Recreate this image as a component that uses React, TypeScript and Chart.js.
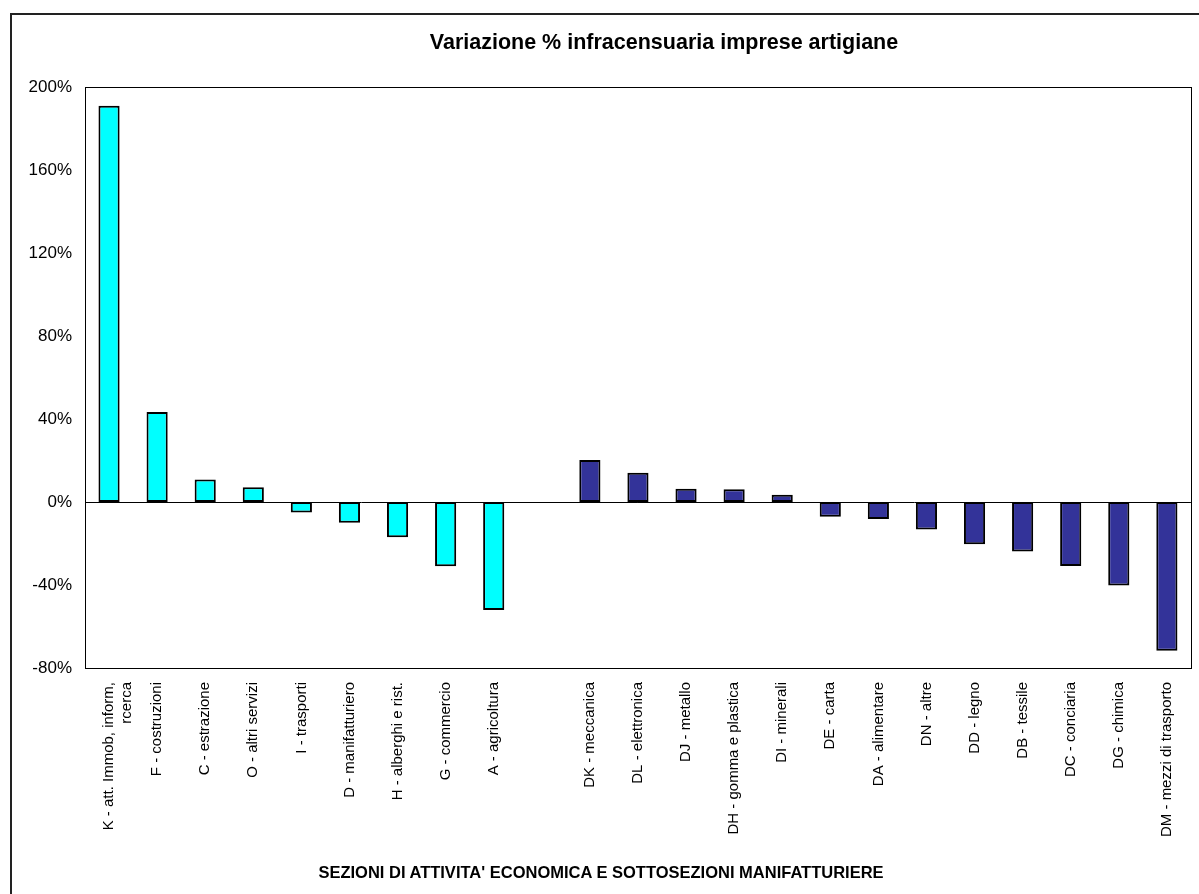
import React, { useEffect, useRef } from "react";
import { Chart, registerables } from "chart.js";

Chart.register(...registerables);

const categories: (string | string[])[] = [
  ["K - att. Immob, inform,", "rcerca"],
  "F - costruzioni",
  "C - estrazione",
  "O - altri servizi",
  "I - trasporti",
  "D - manifatturiero",
  "H - alberghi e rist.",
  "G - commercio",
  "A - agricoltura",
  "",
  "DK - meccanica",
  "DL - elettronica",
  "DJ - metallo",
  "DH - gomma e plastica",
  "DI - minerali",
  "DE - carta",
  "DA - alimentare",
  "DN - altre",
  "DD - legno",
  "DB - tessile",
  "DC - conciaria",
  "DG - chimica",
  "DM - mezzi di trasporto",
];

const values: (number | null)[] = [
  191, 43.4, 10.9, 7.1, -5.1, -10, -17, -31, -52,
  null,
  20.2, 14.1, 6.4, 6.1, 3.5, -7.1, -8.2, -13.2, -20.4, -23.8, -30.8, -40.3, -71.7,
];

// group: 0 = sezioni, 1 = gap, 2 = sottosezioni manifatturiere
const groups = [0, 0, 0, 0, 0, 0, 0, 0, 0, 1, 2, 2, 2, 2, 2, 2, 2, 2, 2, 2, 2, 2, 2];
const groupColors = ["#00FFFF", "rgba(0,0,0,0)", "#333399"];

const yTicks = [-80, -40, 0, 40, 80, 120, 160, 200];

const TITLE = "Variazione % infracensuaria imprese artigiane";
const X_TITLE = "SEZIONI DI ATTIVITA' ECONOMICA E SOTTOSEZIONI MANIFATTURIERE";

const FONT = "'Liberation Sans', Arial, sans-serif";

const plotFrame = {
  id: "plotFrame",
  beforeDatasetsDraw(chart: any) {
    const { ctx, chartArea, scales } = chart;
    ctx.save();
    ctx.strokeStyle = "#000";
    ctx.lineWidth = 1;
    ctx.strokeRect(
      Math.round(chartArea.left) + 0.5,
      Math.round(chartArea.top) + 0.5,
      Math.round(chartArea.right - chartArea.left),
      Math.round(chartArea.bottom - chartArea.top)
    );
    const y0 = Math.round(scales.y.getPixelForValue(0)) + 0.5;
    ctx.beginPath();
    ctx.moveTo(chartArea.left, y0);
    ctx.lineTo(chartArea.right, y0);
    ctx.stroke();
    ctx.restore();
  },
};

export default function App() {
  const ref = useRef<HTMLCanvasElement | null>(null);

  useEffect(() => {
    if (!ref.current) return;
    const chart = new Chart(ref.current, {
      type: "bar",
      data: {
        labels: categories,
        datasets: [
          {
            data: values,
            backgroundColor: groups.map((g) => groupColors[g]),
            borderColor: "#000",
            borderWidth: 2,
            borderSkipped: false,
            categoryPercentage: 1,
            barPercentage: 0.44,
          },
        ],
      },
      options: {
        responsive: false,
        animation: false,
        devicePixelRatio: 1,
        layout: { padding: { left: 0, top: 87, right: 6, bottom: 0 } },
        plugins: {
          legend: { display: false },
          title: { display: false },
          tooltip: { enabled: false },
        },
        scales: {
          x: {
            grid: { display: false, drawTicks: false },
            border: { display: false },
            ticks: {
              autoSkip: false,
              minRotation: 90,
              maxRotation: 90,
              padding: 14,
              color: "#000",
              font: { family: FONT, size: 15 },
            },
            afterFit(scale: any) {
              scale.height = 894 - 668;
            },
          },
          y: {
            min: -80,
            max: 200,
            afterBuildTicks(scale: any) {
              scale.ticks = yTicks.map((v) => ({ value: v }));
            },
            grid: { display: false, drawTicks: false },
            border: { display: false },
            ticks: {
              padding: 13,
              color: "#000",
              font: { family: FONT, size: 17 },
              callback: (v: any) => v + "%",
            },
            afterFit(scale: any) {
              scale.width = 85;
            },
          },
        },
      },
      plugins: [plotFrame],
    });
    return () => chart.destroy();
  }, []);

  return (
    <div
      style={{
        position: "fixed",
        left: 0,
        top: 0,
        width: 1199,
        height: 894,
        background: "#fff",
        overflow: "hidden",
      }}
    >
      <div
        style={{
          position: "absolute",
          left: 10,
          top: 13,
          width: 1300,
          height: 1000,
          border: "2px solid #222",
          boxSizing: "border-box",
        }}
      />
      <canvas
        ref={ref}
        width={1199}
        height={894}
        style={{ position: "absolute", left: 0, top: 0 }}
      />
      <div
        style={{
          position: "absolute",
          left: 664,
          top: 29,
          transform: "translateX(-50%)",
          whiteSpace: "nowrap",
          fontFamily: FONT,
          fontWeight: "bold",
          fontSize: 21.5,
          color: "#000",
          lineHeight: "26px",
        }}
      >
        {TITLE}
      </div>
      <div
        style={{
          position: "absolute",
          left: 601,
          top: 862,
          transform: "translateX(-50%)",
          whiteSpace: "nowrap",
          fontFamily: FONT,
          fontWeight: "bold",
          fontSize: 16.5,
          color: "#000",
          lineHeight: "20px",
        }}
      >
        {X_TITLE}
      </div>
    </div>
  );
}
